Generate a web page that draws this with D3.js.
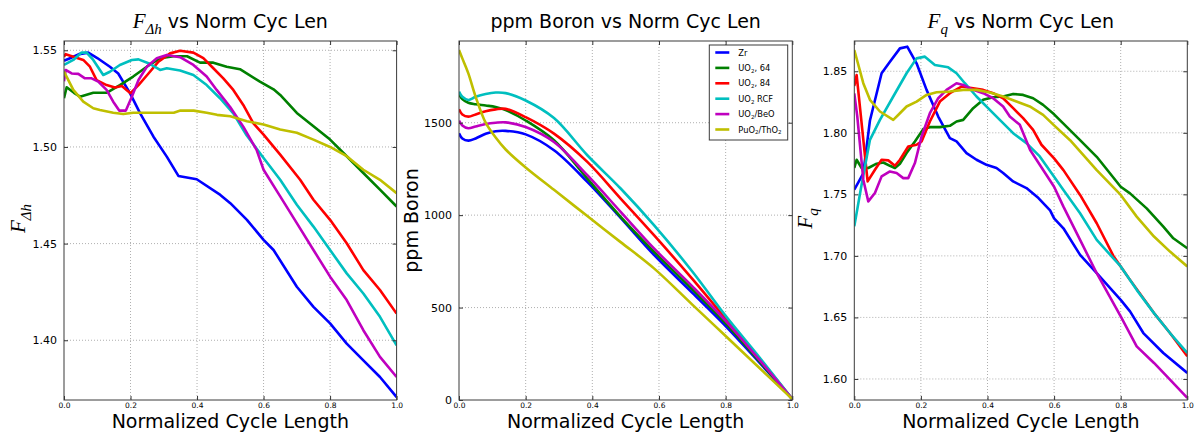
<!DOCTYPE html>
<html>
<head>
<meta charset="utf-8">
<script src="https://cdn.jsdelivr.net/npm/d3@7"></script>
<style>
  html, body { margin: 0; padding: 0; background: #fff; }
  svg { display: block; }
  text { font-family: "DejaVu Sans", sans-serif; fill: #000; }
</style>
</head>
<body>
<svg id="chart" width="1195" height="434"></svg>
<script>
// ---------- DATA ----------
const seriesNames = ["Zr", "UO2, 64", "UO2, 84", "UO2 RCF", "UO2/BeO", "PuO2/ThO2"];
const seriesColors = ["#0000ff", "#008000", "#ff0000", "#00bfbf", "#bf00bf", "#bfbf00"];
const xTicks = [0.0, 0.2, 0.4, 0.6, 0.8, 1.0];

// Panel 1: F_dh vs normalized cycle length  [x, value]
const fdhZr = [[0,1.5446],[0.02,1.546],[0.045,1.548],[0.073,1.5488],[0.1,1.546],[0.138,1.5415],[0.163,1.538],[0.198,1.528],[0.229,1.5174],[0.269,1.5053],[0.309,1.495],[0.344,1.485],[0.399,1.4833],[0.47,1.4752],[0.5,1.4709],[0.55,1.4623],[0.6,1.4519],[0.63,1.4467],[0.7,1.4277],[0.75,1.4173],[0.8,1.4087],[0.85,1.3983],[0.9,1.3896],[0.95,1.381],[1.0,1.3706]];
const fdhUO2_64 = [[0,1.5252],[0.008,1.5309],[0.03,1.528],[0.048,1.526],[0.088,1.528],[0.128,1.528],[0.168,1.532],[0.208,1.5364],[0.249,1.5415],[0.289,1.5459],[0.33,1.5469],[0.37,1.5469],[0.409,1.5436],[0.449,1.5436],[0.489,1.5415],[0.529,1.5402],[0.589,1.5338],[0.63,1.5298],[0.65,1.5269],[0.7,1.5176],[0.75,1.5107],[0.8,1.5038],[0.85,1.4952],[0.9,1.4865],[0.95,1.4779],[1.0,1.4692]];
const fdhUO2_84 = [[0,1.5467],[0.005,1.548],[0.028,1.5467],[0.058,1.545],[0.078,1.5415],[0.098,1.5346],[0.128,1.532],[0.153,1.5307],[0.174,1.5315],[0.188,1.5295],[0.2,1.5278],[0.224,1.532],[0.254,1.538],[0.284,1.5441],[0.319,1.5484],[0.349,1.5498],[0.389,1.5488],[0.419,1.5459],[0.449,1.5407],[0.479,1.5355],[0.509,1.5295],[0.539,1.5217],[0.569,1.5123],[0.6,1.5064],[0.65,1.496],[0.71,1.483],[0.75,1.4727],[0.8,1.4623],[0.85,1.4502],[0.9,1.4363],[0.95,1.426],[1.0,1.4138]];
const fdhUO2_RCF = [[0,1.5424],[0.028,1.545],[0.053,1.5488],[0.068,1.5488],[0.088,1.545],[0.118,1.5372],[0.138,1.5389],[0.168,1.5424],[0.204,1.545],[0.224,1.5453],[0.254,1.5433],[0.289,1.5398],[0.309,1.5407],[0.349,1.5395],[0.389,1.5372],[0.429,1.532],[0.469,1.5252],[0.509,1.5174],[0.549,1.506],[0.6,1.4943],[0.65,1.483],[0.7,1.4701],[0.75,1.4588],[0.8,1.4467],[0.85,1.4346],[0.9,1.4242],[0.95,1.4121],[1.0,1.3974]];
const fdhUO2_BeO = [[0,1.534],[0.005,1.5398],[0.023,1.538],[0.043,1.5378],[0.063,1.5355],[0.083,1.5355],[0.103,1.5338],[0.128,1.5295],[0.148,1.5234],[0.166,1.5188],[0.186,1.5188],[0.204,1.526],[0.224,1.5346],[0.249,1.5415],[0.279,1.5459],[0.309,1.5476],[0.349,1.5464],[0.389,1.5424],[0.429,1.5364],[0.459,1.5295],[0.499,1.5208],[0.539,1.5105],[0.579,1.4985],[0.6,1.4882],[0.65,1.4744],[0.7,1.4606],[0.75,1.4467],[0.8,1.4329],[0.85,1.4208],[0.9,1.4052],[0.95,1.3914],[1.0,1.381]];
const fdhPuO2_ThO2 = [[0,1.539],[0.028,1.5295],[0.058,1.5234],[0.088,1.52],[0.108,1.5191],[0.148,1.5177],[0.178,1.517],[0.208,1.5177],[0.33,1.5177],[0.35,1.5188],[0.39,1.5188],[0.429,1.5177],[0.46,1.5166],[0.5,1.5159],[0.55,1.5133],[0.6,1.5116],[0.65,1.509],[0.7,1.5073],[0.75,1.5038],[0.8,1.5],[0.85,1.4952],[0.9,1.4882],[0.95,1.483],[1.0,1.4761]];
const fdhTicks = [1.40, 1.45, 1.50, 1.55];

// Panel 2: ppm boron vs normalized cycle length
const boronX = [0, 0.01, 0.028, 0.05, 0.08, 0.11, 0.14, 0.2, 0.285, 0.385, 0.485, 0.585, 0.7, 0.8, 0.9, 1.0];
const boronZr = [1443,1415,1403,1415,1440,1454,1456,1437,1351,1180,985,785,580,400,205,5];
const boronUO2_64 = [1655,1628,1608,1600,1593,1585,1568,1512,1405,1198,991,802,598,415,212,5];
const boronUO2_84 = [1573,1545,1533,1545,1562,1572,1575,1530,1441,1288,1090,892,655,440,226,5];
const boronUO2_RCF = [1668,1640,1623,1640,1655,1663,1660,1620,1525,1324,1144,946,695,455,234,5];
const boronUO2_BeO = [1511,1485,1470,1480,1493,1500,1502,1477,1396,1216,1018,820,615,428,220,5];
const boronPuO2_ThO2 = [1893,1848,1767,1640,1500,1420,1355,1258,1137,995,854,712,516,346,176,5];
const boronTicks = [0, 500, 1000, 1500];

// Panel 3: F_q vs normalized cycle length  [x, value]
const fqZr = [[0,1.7538],[0.027,1.767],[0.047,1.81],[0.082,1.8484],[0.107,1.8578],[0.137,1.8686],[0.159,1.87],[0.187,1.8565],[0.217,1.8349],[0.252,1.8132],[0.287,1.7957],[0.307,1.793],[0.337,1.7835],[0.367,1.7781],[0.397,1.774],[0.427,1.7714],[0.447,1.7673],[0.477,1.7605],[0.517,1.7551],[0.553,1.747],[0.588,1.737],[0.6,1.7305],[0.628,1.7224],[0.678,1.7008],[0.728,1.6859],[0.8,1.6643],[0.828,1.6549],[0.868,1.6373],[0.928,1.6211],[1.0,1.6049]];
const fqUO2_64 = [[0,1.7714],[0.007,1.7781],[0.022,1.7714],[0.042,1.7714],[0.067,1.7749],[0.087,1.7759],[0.107,1.7732],[0.122,1.7714],[0.137,1.7749],[0.157,1.7835],[0.182,1.793],[0.207,1.803],[0.227,1.8046],[0.257,1.8046],[0.287,1.8057],[0.307,1.8092],[0.327,1.8105],[0.357,1.82],[0.387,1.8268],[0.417,1.8289],[0.447,1.8295],[0.477,1.8316],[0.507,1.8308],[0.537,1.8281],[0.567,1.8227],[0.6,1.815],[0.678,1.794],[0.728,1.7805],[0.8,1.7562],[0.828,1.7508],[0.878,1.7386],[0.928,1.7238],[0.958,1.7143],[1.0,1.7062]];
const fqUO2_84 = [[0,1.838],[0.007,1.847],[0.04,1.7605],[0.062,1.77],[0.082,1.7781],[0.102,1.7776],[0.122,1.7732],[0.137,1.7781],[0.162,1.7889],[0.187,1.7903],[0.202,1.793],[0.227,1.8092],[0.257,1.8254],[0.287,1.8322],[0.322,1.8376],[0.357,1.8362],[0.387,1.8349],[0.417,1.8322],[0.447,1.8281],[0.477,1.82],[0.507,1.8119],[0.537,1.8024],[0.562,1.7903],[0.6,1.7792],[0.628,1.7697],[0.678,1.7495],[0.728,1.7265],[0.778,1.7],[0.8,1.6914],[0.828,1.6805],[0.9,1.6535],[0.948,1.6373],[1.0,1.6184]];
const fqUO2_RCF = [[0,1.724],[0.02,1.755],[0.047,1.7943],[0.077,1.8105],[0.117,1.8295],[0.157,1.8484],[0.187,1.8605],[0.212,1.8619],[0.242,1.8551],[0.282,1.8532],[0.307,1.8484],[0.332,1.8403],[0.367,1.8295],[0.407,1.8186],[0.437,1.8105],[0.477,1.7997],[0.517,1.7916],[0.557,1.7808],[0.6,1.7643],[0.628,1.7535],[0.678,1.7346],[0.728,1.713],[0.8,1.6914],[0.848,1.6724],[0.9,1.6535],[0.948,1.6373],[1.0,1.6211]];
const fqUO2_BeO = [[0,1.832],[0.009,1.8132],[0.027,1.7619],[0.042,1.7443],[0.062,1.7511],[0.082,1.7646],[0.107,1.7686],[0.127,1.7673],[0.147,1.7632],[0.162,1.7632],[0.182,1.7754],[0.202,1.797],[0.227,1.8159],[0.252,1.8281],[0.277,1.8349],[0.307,1.8403],[0.327,1.8389],[0.357,1.8349],[0.387,1.8322],[0.417,1.8281],[0.447,1.8214],[0.467,1.8132],[0.497,1.8065],[0.528,1.786],[0.6,1.7562],[0.628,1.74],[0.678,1.713],[0.728,1.6859],[0.8,1.6508],[0.848,1.6265],[0.9,1.613],[0.948,1.5995],[1.0,1.5846]];
const fqPuO2_ThO2 = [[0,1.8673],[0.027,1.8403],[0.047,1.8268],[0.077,1.8173],[0.117,1.8105],[0.137,1.8159],[0.157,1.8214],[0.187,1.8254],[0.217,1.8308],[0.247,1.8329],[0.287,1.8335],[0.327,1.8349],[0.367,1.8349],[0.407,1.8327],[0.447,1.8295],[0.487,1.8254],[0.527,1.8214],[0.567,1.8146],[0.6,1.806],[0.648,1.794],[0.728,1.7697],[0.8,1.7495],[0.848,1.7319],[0.9,1.7157],[0.948,1.7035],[1.0,1.6914]];
const fqTicks = [1.60, 1.65, 1.70, 1.75, 1.80, 1.85];

// ---------- BUILD ----------
const boronSeries = [boronZr, boronUO2_64, boronUO2_84, boronUO2_RCF, boronUO2_BeO, boronPuO2_ThO2]
  .map(vals => vals.map((v, i) => [boronX[i], v]));

const panels = [
  { left: 64, right: 396.6, yDomain: [1.3691, 1.5548], yTicks: fdhTicks, fmt: d3.format(".2f"),
    series: [fdhZr, fdhUO2_64, fdhUO2_84, fdhUO2_RCF, fdhUO2_BeO, fdhPuO2_ThO2], curve: d3.curveLinear,
    title: "dh", ylab: "dh", ylabOff: 39 },
  { left: 459, right: 792.3, yDomain: [0, 1942], yTicks: boronTicks, fmt: d3.format("d"),
    series: boronSeries, curve: d3.curveCatmullRom.alpha(0.5), title: "boron", ylab: "boron", legend: true, ylabOff: 41 },
  { left: 854.3, right: 1187.3, yDomain: [1.5829, 1.8746], yTicks: fqTicks, fmt: d3.format(".2f"),
    series: [fqZr, fqUO2_64, fqUO2_84, fqUO2_RCF, fqUO2_BeO, fqPuO2_ThO2], curve: d3.curveLinear,
    title: "q", ylab: "q", ylabOff: 42 }
];
const plotTop = 41, plotBottom = 400;
const svg = d3.select("#chart");

function mathLabel(sel, sub, fsMain, fsSub, rest, restSize) {
  sel.append("tspan").attr("font-family", "Liberation Serif, serif").attr("font-style", "italic")
    .attr("font-size", fsMain).text("F");
  sel.append("tspan").attr("font-family", "Liberation Serif, serif").attr("font-style", "italic")
    .attr("font-size", fsSub).attr("dy", fsMain * 0.27).text(sub);
  if (rest) {
    sel.append("tspan").attr("font-family", "DejaVu Sans, sans-serif")
      .attr("font-size", restSize).attr("dy", -fsMain * 0.27).text(rest);
  }
}

panels.forEach((p, pi) => {
  const x = d3.scaleLinear().domain([0, 1]).range([p.left, p.right]);
  const y = d3.scaleLinear().domain(p.yDomain).range([plotBottom, plotTop]);
  const g = svg.append("g");
  const clipId = "clip" + pi;
  g.append("clipPath").attr("id", clipId).append("rect")
    .attr("x", p.left).attr("y", plotTop).attr("width", p.right - p.left).attr("height", plotBottom - plotTop);

  // grid
  g.append("g").selectAll("line").data(xTicks.filter(t => t > 0 && t < 1)).join("line")
    .attr("x1", d => x(d)).attr("x2", d => x(d)).attr("y1", plotTop).attr("y2", plotBottom)
    .attr("stroke", "#9a9a9a").attr("stroke-width", 0.8).attr("stroke-dasharray", "1,2");
  g.append("g").selectAll("line").data(p.yTicks.filter(t => y(t) > plotTop + 1 && y(t) < plotBottom - 1)).join("line")
    .attr("x1", p.left).attr("x2", p.right).attr("y1", d => y(d)).attr("y2", d => y(d))
    .attr("stroke", "#9a9a9a").attr("stroke-width", 0.8).attr("stroke-dasharray", "1,2");

  // series
  const line = d3.line().x(d => x(d[0])).y(d => y(d[1])).curve(p.curve);
  g.append("g").attr("clip-path", `url(#${clipId})`).selectAll("path").data(p.series).join("path")
    .attr("d", line).attr("fill", "none")
    .attr("stroke", (d, i) => seriesColors[i]).attr("stroke-width", 2.6)
    .attr("stroke-linejoin", "round").attr("stroke-linecap", "butt");

  // axes
  const yAxis = d3.axisLeft(y).tickValues(p.yTicks).tickFormat(p.fmt).tickSize(-4).tickPadding(7);
  const ya = g.append("g").attr("transform", `translate(${p.left},0)`).call(yAxis);
  ya.select(".domain").remove();
  ya.selectAll("text").attr("font-size", 11).attr("font-family", "DejaVu Sans, sans-serif");
  ya.selectAll("line").attr("stroke", "#333");
  const yAxisR = d3.axisRight(y).tickValues(p.yTicks).tickSize(-4).tickFormat("");
  const yr = g.append("g").attr("transform", `translate(${p.right},0)`).call(yAxisR);
  yr.select(".domain").remove();
  yr.selectAll("line").attr("stroke", "#333");

  const xAxis = d3.axisBottom(x).tickValues(xTicks).tickFormat(d3.format(".1f")).tickSize(-4).tickPadding(3);
  const xa = g.append("g").attr("transform", `translate(0,${plotBottom})`).call(xAxis);
  xa.select(".domain").remove();
  xa.selectAll("text").attr("font-size", 7.5).attr("font-family", "DejaVu Sans, sans-serif");
  xa.selectAll("line").attr("stroke", "#333");
  const xAxisT = d3.axisTop(x).tickValues(xTicks).tickSize(-4).tickFormat("");
  const xt = g.append("g").attr("transform", `translate(0,${plotTop})`).call(xAxisT);
  xt.select(".domain").remove();
  xt.selectAll("line").attr("stroke", "#333");

  // frame
  g.append("rect").attr("x", p.left).attr("y", plotTop).attr("width", p.right - p.left).attr("height", plotBottom - plotTop)
    .attr("fill", "none").attr("stroke", "#3a3a3a").attr("stroke-width", 1);

  const cx = (p.left + p.right) / 2;
  // title
  const t = g.append("text").attr("x", cx).attr("y", 28).attr("text-anchor", "middle");
  if (p.title === "dh") mathLabel(t, "Δh", 21, 15, " vs Norm Cyc Len", 19);
  else if (p.title === "q") mathLabel(t, "q", 21, 15, " vs Norm Cyc Len", 19);
  else t.attr("font-size", 19).text("ppm Boron vs Norm Cyc Len");

  // x label
  g.append("text").attr("x", cx).attr("y", 428).attr("text-anchor", "middle")
    .attr("font-size", 19).text("Normalized Cycle Length");

  // y label
  const cy = (plotTop + plotBottom) / 2;
  if (p.ylab === "boron") {
    g.append("text").attr("transform", `translate(${p.left - p.ylabOff},${cy}) rotate(-90)`)
      .attr("text-anchor", "middle").attr("font-size", 19).text("ppm Boron");
  } else {
    const yl = g.append("text").attr("transform", `translate(${p.left - p.ylabOff},${cy - 2}) rotate(-90)`)
      .attr("text-anchor", "middle");
    mathLabel(yl, p.ylab === "dh" ? "Δh" : "q", 21, 15);
  }

  // legend
  if (p.legend) {
    const lg = g.append("g");
    const lx = 709.3, ly = 45, lw = 78.4, lh = 95;
    lg.append("rect").attr("x", lx).attr("y", ly).attr("width", lw).attr("height", lh)
      .attr("fill", "#fff").attr("stroke", "#3a3a3a").attr("stroke-width", 1);
    seriesNames.forEach((name, i) => {
      const yy = ly + 7.5 + i * 15.4;
      lg.append("line").attr("x1", lx + 6).attr("x2", lx + 20).attr("y1", yy).attr("y2", yy)
        .attr("stroke", seriesColors[i]).attr("stroke-width", 2.6);
      const tx = lg.append("text").attr("x", lx + 29).attr("y", yy + 3).attr("font-size", 8.3);
      const parts = name.split(/(2)/);
      let sub = false;
      parts.forEach(part => {
        if (part === "") return;
        if (part === "2") {
          tx.append("tspan").attr("font-size", 5.5).attr("dy", 1.8).text("2");
          sub = true;
        } else {
          const ts = tx.append("tspan").text(part);
          if (sub) { ts.attr("dy", -1.8); sub = false; }
        }
      });
    });
  }
});
</script>
</body>
</html>
